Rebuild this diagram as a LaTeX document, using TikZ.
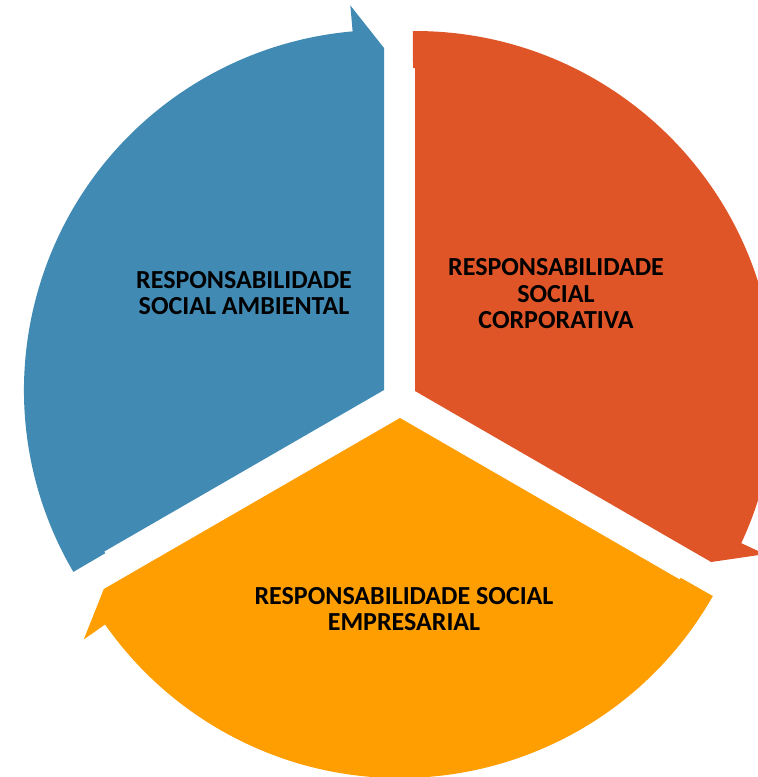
\documentclass[tikz,border=0pt]{standalone}
\usepackage{fontspec}
\setmainfont{Carlito}
\usetikzlibrary{calc}
\definecolor{segblue}{HTML}{418AB3}
\definecolor{segorange}{HTML}{E05528}
\definecolor{segyellow}{HTML}{FE9E00}
\newcommand\cyclesegment[4]{% #1 colour, #2 apex name, #3 tail angle, #4 head angle
  \fill[#1] (#2) -- ($(#2)+(#3:323)$) -- ($(#2)+(#3+0.35:323)$) -- ($(#2)+(#3+0.35:360)$)
    arc[start angle=#3+0.35, end angle=#4+5, radius=360]
    -- ($(#2)+(#4+5:386)$) -- ($(#2)+(#4:342)$) -- cycle;}
\begin{document}
\begin{tikzpicture}[x=1pt,y=1pt,
  seglabel/.style={align=center, text=black, inner sep=0pt,
    font=\bfseries\fontsize{26}{26.5}\selectfont}]
\useasboundingbox (0,0) rectangle (758,-777);
\clip (0,0) rectangle (758,-777);
\fill[white] (0,0) rectangle (758,-777);
\coordinate (apexB) at (384,-390);
\coordinate (apexO) at (415,-391);
\coordinate (apexY) at (400,-418);
\cyclesegment{segblue}{apexB}{210}{90}
\cyclesegment{segorange}{apexO}{90}{-30}
\cyclesegment{segyellow}{apexY}{330}{210}
\node[seglabel] (tB) at (244,-293) {RESPONSABILIDADE\\SOCIAL AMBIENTAL};
\node[seglabel] (tO) at (556,-294) {RESPONSABILIDADE\\SOCIAL\\CORPORATIVA};
\node[seglabel] (tY) at (404,-609) {RESPONSABILIDADE SOCIAL\\EMPRESARIAL};
\end{tikzpicture}
\end{document}
